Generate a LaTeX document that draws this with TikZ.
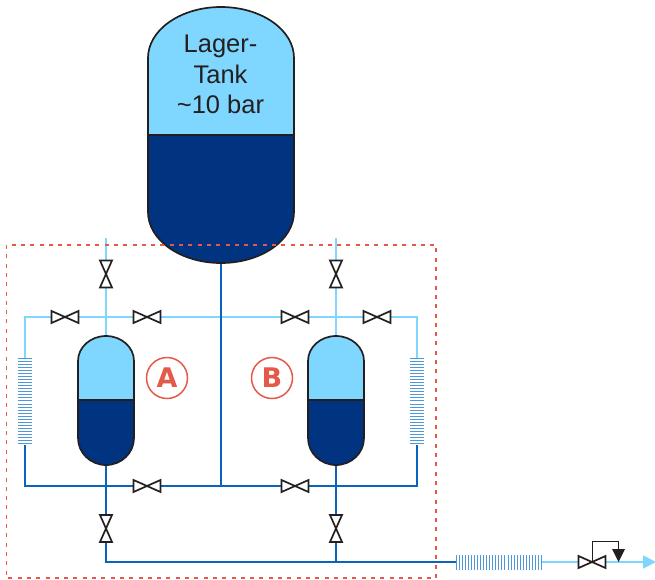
\documentclass[tikz,border=0pt]{standalone}
\usepackage{fontspec}
\setmainfont{Liberation Sans}
\newfontfamily\letterfont[Scale=1]{DejaVu Sans}
\usetikzlibrary{arrows.meta}
\definecolor{lightblue}{HTML}{7FD6FF}
\definecolor{darktank}{HTML}{003380}
\definecolor{darkpipe}{HTML}{0A64BE}
\definecolor{inkblack}{HTML}{231F20}
\definecolor{redmark}{HTML}{E5594A}
\definecolor{hxblue}{HTML}{4F98D8}
\tikzset{
  x=1pt,y=-1pt,
  hotpipe/.style={draw=lightblue,line width=1.8pt},
  coldpipe/.style={draw=darkpipe,line width=1.8pt},
  outline/.style={draw=inkblack,line width=1.7pt},
  valvebox/.style={inner sep=0pt,outer sep=0pt,minimum width=27pt,minimum height=12pt},
  vvalvebox/.style={inner sep=0pt,outer sep=0pt,minimum width=12pt,minimum height=27pt},
  valvelook/.style={draw=inkblack,fill=white,line width=1.7pt,line join=miter},
  hxline/.style={draw=hxblue,line width=1pt},
  hxbox/.style={inner sep=0pt,outer sep=0pt},
  badge/.style={circle,draw=redmark,line width=1.5pt,minimum size=41pt,inner sep=0pt,text=redmark,font=\letterfont\fontsize{27}{27}\selectfont\bfseries},
  limit/.style={draw=redmark,line width=1.7pt,dash pattern=on 4pt off 5.3pt},
  tanklabel/.style={align=center,text=inkblack,font=\fontsize{25.5}{30.5}\selectfont}
}
\newcommand{\hvalve}[3]{\node[valvebox] (#1) at (#2,#3) {};}
\newcommand{\vvalve}[3]{\node[vvalvebox] (#1) at (#2,#3) {};}
\newcommand{\hbow}[1]{\draw[valvelook] (#1.north west) -- (#1.south east) -- (#1.north east) -- (#1.south west) -- cycle;}
\newcommand{\vbow}[1]{\draw[valvelook] (#1.north west) -- (#1.north east) -- (#1.south west) -- (#1.south east) -- cycle;}
\newcommand{\vessel}[7]{% cx, halfw, top, shoulder, level, lowershoulder, bottom
  \fill[lightblue] (#1-#2,#5) -- (#1-#2,#4)
     .. controls (#1-#2,#4-0.5523*#4+0.5523*#3) and (#1-0.5523*#2,#3) .. (#1,#3)
     .. controls (#1+0.5523*#2,#3) and (#1+#2,#4-0.5523*#4+0.5523*#3) .. (#1+#2,#4)
     -- (#1+#2,#5) -- cycle;
  \fill[darktank] (#1-#2,#5) -- (#1-#2,#6)
     .. controls (#1-#2,#6+0.5523*#7-0.5523*#6) and (#1-0.5523*#2,#7) .. (#1,#7)
     .. controls (#1+0.5523*#2,#7) and (#1+#2,#6+0.5523*#7-0.5523*#6) .. (#1+#2,#6)
     -- (#1+#2,#5) -- cycle;
  \draw[outline] (#1-#2,#6) -- (#1-#2,#4)
     .. controls (#1-#2,#4-0.5523*#4+0.5523*#3) and (#1-0.5523*#2,#3) .. (#1,#3)
     .. controls (#1+0.5523*#2,#3) and (#1+#2,#4-0.5523*#4+0.5523*#3) .. (#1+#2,#4)
     -- (#1+#2,#6)
     .. controls (#1+#2,#6+0.5523*#7-0.5523*#6) and (#1+0.5523*#2,#7) .. (#1,#7)
     .. controls (#1-0.5523*#2,#7) and (#1-#2,#6+0.5523*#7-0.5523*#6) .. (#1-#2,#6) -- cycle;
  \draw[outline] (#1-#2,#5) -- (#1+#2,#5);
}
\begin{document}
\begin{tikzpicture}
\useasboundingbox (0,0) rectangle (655,579);

% anchors of the vessels
\node[hxbox,minimum width=146pt,minimum height=256pt] (tank) at (221,135) {};
\node[hxbox,minimum width=56pt,minimum height=129pt] (vesA) at (106,400.5) {};
\node[hxbox,minimum width=56pt,minimum height=129pt] (vesB) at (336,400.5) {};

% heat exchangers
\node[hxbox,minimum width=14pt,minimum height=87pt] (hxL) at (25,401.5) {};
\node[hxbox,minimum width=14pt,minimum height=87pt] (hxR) at (417,401.5) {};
\node[hxbox,minimum width=86pt,minimum height=15pt] (hxB) at (499,562) {};

% valves
\vvalve{vAtop}{106}{274}
\vvalve{vBtop}{336}{274}
\vvalve{vAbot}{106}{528.5}
\vvalve{vBbot}{336}{528.5}
\hvalve{hTa}{65}{317}
\hvalve{hTb}{147}{317}
\hvalve{hTc}{295}{317}
\hvalve{hTd}{377}{317}
\hvalve{hCa}{147}{486}
\hvalve{hCb}{295}{486}
\hvalve{hReg}{592}{562}

% junctions and free ends
\coordinate (endA) at (106,238);
\coordinate (endB) at (336,238);
\coordinate (cornerTL) at (25,317);
\coordinate (cornerTR) at (417,317);
\coordinate (cornerCL) at (25,486);
\coordinate (cornerCR) at (417,486);
\coordinate (jTopMid) at (221,486);
\coordinate (cornerBot) at (106,562);
\coordinate (jBotB) at (336,562);
\coordinate (outlet) at (656,562);

% light pipes
\draw[hotpipe] (endA) -- (vesA.north);
\draw[hotpipe] (endB) -- (vesB.north);
\draw[hotpipe] (hxL.north) -- (cornerTL) -- (cornerTR) -- (hxR.north);
\draw[hotpipe] (hxB.east) -- (hReg.west);
\draw[hotpipe,-{Triangle[length=13pt,width=13pt]}] (hReg.east) -- (outlet);

% dark pipes
\draw[coldpipe] (hxL.south) -- (cornerCL) -- (cornerCR) -- (hxR.south);
\draw[coldpipe] (tank.south) -- (jTopMid);
\draw[coldpipe] (vesA.south) -- (cornerBot) -- (hxB.west);
\draw[coldpipe] (vesB.south) -- (jBotB);

% vessels
\vessel{221}{73}{7}{58}{135}{212}{263}
\vessel{106}{28}{336}{361}{400}{438}{465}
\vessel{336}{28}{336}{361}{400}{438}{465}

\node[tanklabel] (tanktext) at (220.5,74.5) {Lager-\\Tank\\\textasciitilde10 bar};

% exchanger fins
\foreach \k in {0,...,28}{
  \draw[hxline] (18,358+\k*3.07) -- (32,358+\k*3.07);
  \draw[hxline] (410,358+\k*3.07) -- (424,358+\k*3.07);
  \draw[hxline] (456.5+\k*3.03,555) -- (456.5+\k*3.03,569.5);
}

% valves
\vbow{vAtop}\vbow{vBtop}\vbow{vAbot}\vbow{vBbot}
\hbow{hTa}\hbow{hTb}\hbow{hTc}\hbow{hTd}\hbow{hCa}\hbow{hCb}\hbow{hReg}

% pressure regulator
\coordinate (regA) at (592,541.5);
\coordinate (regB) at (618.5,541.5);
\coordinate (regC) at (618.5,549);
\draw[draw=inkblack,line width=1pt] (hReg.center) -- (regA) -- (regB) -- (regC);
\fill[inkblack] (612,549) -- (625,549) -- (618.5,562) -- cycle;

% badges
\node[badge] (badgeA) at (167,378) {A};
\node[badge] (badgeB) at (272,378) {B};

% limit box
\draw[limit] (6.5,245) rectangle (436,578);
\end{tikzpicture}
\end{document}
